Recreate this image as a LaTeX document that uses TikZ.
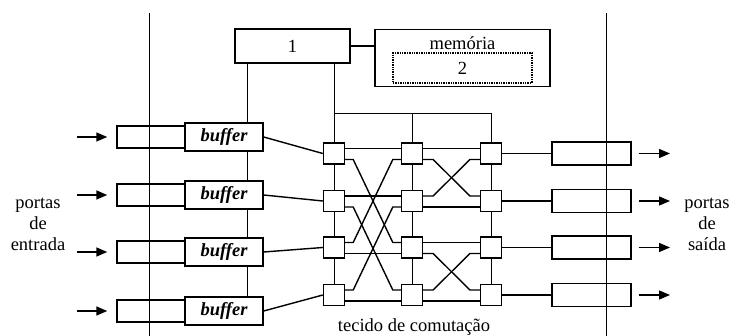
\documentclass[tikz,border=0pt]{standalone}
\usepackage{fontspec}
\setmainfont{Liberation Serif}
\usetikzlibrary{arrows.meta,calc,backgrounds}
\begin{document}
\begin{tikzpicture}[x=1pt,y=-1pt,line width=1.4pt,
  font=\fontsize{18.5}{21}\selectfont,
  portbox/.style={draw,inner sep=0pt,minimum width=68pt,minimum height=22pt},
  bufbox/.style={draw,fill=white,inner sep=0pt,minimum width=78pt,minimum height=28pt,font=\fontsize{18.5}{21}\selectfont\bfseries\itshape},
  sw/.style={draw,fill=white,inner sep=0pt,minimum size=21pt},
  outbox/.style={draw,inner sep=0pt,minimum width=79pt,minimum height=23pt},
  plainbox/.style={draw,fill=white,inner sep=0pt},
  arr/.style={-{Triangle[length=11pt,width=9pt]}}]
\useasboundingbox (0,0) rectangle (733,336);

% top boxes
\node[plainbox,minimum width=115pt,minimum height=34pt] (box1) at (292.5,46) {1};
\node[plainbox,minimum width=175pt,minimum height=57pt] (mem) at (462.5,58) {};
\node (memt) at (462.5,43) {mem\'oria};
\node[draw,densely dotted,inner sep=0pt,minimum width=139pt,minimum height=30pt] (m2) at (462.5,68) {2};
\draw (box1.east) -- (box1.east -| mem.west);

% input side
\foreach \i/\y in {1/137,2/195,3/252,4/311}{
  \node[portbox] (p\i) at (151,\y) {};
  \node[bufbox] (buf\i) at (224,\y) {buffer};
  \coordinate (a\i) at (77,\y);
  \draw[arr,shorten >=9pt] (a\i) -- (p\i.west);
}

% switches and outputs
\foreach \i/\y in {1/153.5,2/201,3/247.5,4/295}{
  \node[sw] (s\i1) at (334,\y) {};
  \node[sw] (s\i2) at (412,\y) {};
  \node[sw] (s\i3) at (491,\y) {};
  \node[outbox] (o\i) at (591.5,\y) {};
  \coordinate (b\i) at (670,\y);
  \draw[arr,shorten <=7pt] (o\i.east) -- (b\i);
  \draw (s\i3.east) -- (o\i.west);
  \draw (buf\i.east) -- (s\i1.west);
}

% stage 1 (rows i <-> i+2)
\foreach \i/\j in {1/3,2/4}{
  \draw ($(s\i1.east)+(0,-5)$) -- ($(s\i2.west)+(0,-5)$);
  \draw ($(s\i1.east)+(0,6)$) -- ++(8,0) -- ($(s\j2.west)+(-8,-5)$) -- ($(s\j2.west)+(0,-5)$);
}
\foreach \i/\j in {3/1,4/2}{
  \draw ($(s\i1.east)+(0,6)$) -- ($(s\i2.west)+(0,6)$);
  \draw ($(s\i1.east)+(0,-5)$) -- ++(8,0) -- ($(s\j2.west)+(-8,6)$) -- ($(s\j2.west)+(0,6)$);
}
% stage 2 (rows i <-> i+1)
\foreach \i/\j in {1/2,3/4}{
  \draw ($(s\i2.east)+(0,-5)$) -- ($(s\i3.west)+(0,-5)$);
  \draw ($(s\i2.east)+(0,6)$) -- ++(10,0) -- ($(s\j3.west)+(-10,-5)$) -- ($(s\j3.west)+(0,-5)$);
}
\foreach \i/\j in {2/1,4/3}{
  \draw ($(s\i2.east)+(0,6)$) -- ($(s\i3.west)+(0,6)$);
  \draw ($(s\i2.east)+(0,-5)$) -- ++(10,0) -- ($(s\j3.west)+(-10,6)$) -- ($(s\j3.west)+(0,6)$);
}

% texts
\node[align=center] (pin) at (38,224) {portas\\de\\entrada};
\node[align=center] (pout) at (707,224) {portas\\de\\sa\'ida};
\node (tec) at (414,327) {tecido de comuta\c{c}\~ao};

\begin{pgfonlayer}{background}
  \draw (149,13) -- (149,336);
  \draw (606,13) -- (606,336);
  \coordinate (bus) at (0,113);
  \draw ([xshift=13pt]box1.south west) -- ([xshift=13pt]box1.south west |- buf4.north);
  \draw (box1.south -| s11) -- (s41);
  \draw (bus -| s11) -- (bus -| s13);
  \draw (bus -| s12) -- (s42);
  \draw (bus -| s13) -- (s43);
\end{pgfonlayer}
\end{tikzpicture}
\end{document}
